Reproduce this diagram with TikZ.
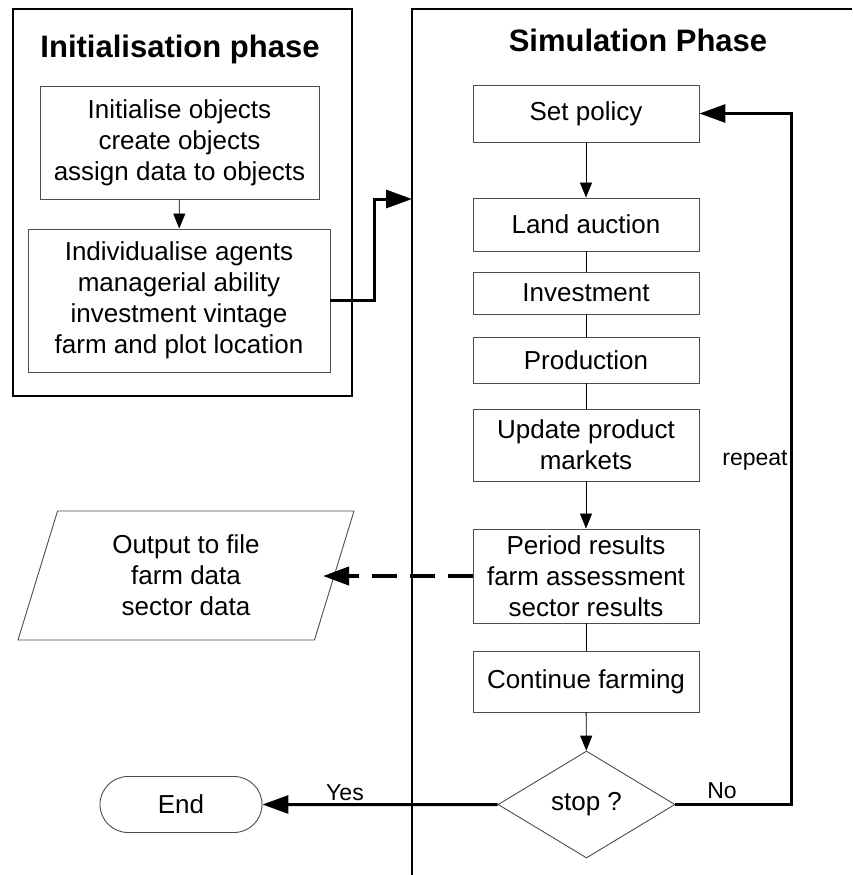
\documentclass[tikz,border=0pt]{standalone}
\usepackage{fontspec}
\setmainfont{Liberation Sans}
\usetikzlibrary{arrows.meta,shapes.geometric,shapes.misc}
\begin{document}
\begin{tikzpicture}[x=1pt,y=-1pt,
    box/.style={draw=black!70,line width=0.9pt,inner sep=0pt,align=center,
      font=\fontsize{26}{31}\selectfont},
    frame/.style={line width=2pt},
    link/.style={line width=0.8pt},
    flow/.style={link,-{Triangle[length=15pt,width=12pt]}},
    bigflow/.style={line width=3pt,-{Triangle[length=26pt,width=18pt]}},
    lab/.style={font=\fontsize{23}{27}\selectfont,anchor=base},
    title/.style={font=\fontsize{31}{36}\selectfont\bfseries,anchor=base}]
  \useasboundingbox (0,0) rectangle (852,875);
  \draw[frame] (13,9) rectangle (352,396);
  \draw[frame] (412,875) -- (412,9) -- (852,9);
  \node[title] (inittitle) at (180,57) {Initialisation phase};
  \node[title] (simtitle) at (638,52) {Simulation Phase};
  \node[box,minimum width=279pt,minimum height=113pt] (init) at (179.5,142.5)
    {Initialise objects\\create objects\\assign data to objects};
  \node[box,minimum width=302pt,minimum height=143pt] (indiv) at (179,300.5)
    {Individualise agents\\managerial ability\\investment vintage\\farm and plot location};
  \node[box,minimum width=226pt,minimum height=57pt] (setpol) at (586,113.5) {Set policy};
  \node[box,minimum width=226pt,minimum height=53pt] (auction) at (586,224.5) {Land auction};
  \node[box,minimum width=226pt,minimum height=42pt] (invest) at (586,293) {Investment};
  \node[box,minimum width=226pt,minimum height=46pt] (prod) at (586,360) {Production};
  \node[box,minimum width=226pt,minimum height=72pt] (update) at (586,445) {Update product\\markets};
  \node[box,minimum width=226pt,minimum height=94pt] (period) at (586,576)
    {Period results\\farm assessment\\sector results};
  \node[box,minimum width=226pt,minimum height=61pt] (cont) at (586,681.5) {Continue farming};
  \node[box,diamond,minimum width=177pt,minimum height=107pt] (stop) at (586.5,804.5) {stop ?};
  \node[box,rounded rectangle,minimum width=162pt,minimum height=56pt] (finish) at (181,804.5) {End};
  \node[box,trapezium,trapezium left angle=64,trapezium right angle=116,
    trapezium stretches body,minimum width=336pt,minimum height=129pt] (output) at (186,575.5)
    {Output to file\\farm data\\sector data};
  \coordinate (simin) at (412,199);
  \coordinate (outin) at (323,576);
  \draw[flow] (init) -- (indiv);
  \draw[flow] (setpol) -- (auction);
  \draw[link] (auction) -- (invest);
  \draw[link] (invest) -- (prod);
  \draw[link] (prod) -- (update);
  \draw[flow] (update) -- (period);
  \draw[link] (period) -- (cont);
  \draw[flow] (cont) -- (stop);
  \draw[bigflow] (indiv.east) -- ++(44,0) |- (simin);
  \draw[bigflow] (stop.east) -- ++(116,0) |- (setpol.east);
  \draw[bigflow] (stop) -- (finish);
  \draw[bigflow,line width=4pt,dash pattern=on 25pt off 13pt] (period.west) -- (outin);
  \node[lab] (yes) at (345,800) {Yes};
  \node[lab] (no) at (722,798) {No};
  \node[lab,anchor=center] (rep) at (755,460) {repeat};
\end{tikzpicture}
\end{document}
